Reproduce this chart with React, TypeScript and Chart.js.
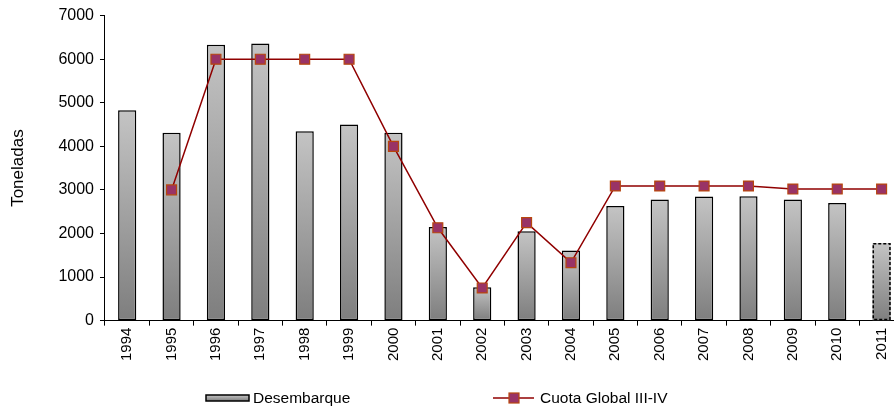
import React, { useEffect, useRef } from "react";
import { Chart, registerables } from "chart.js";

Chart.register(...registerables);

const years = ["1994", "1995", "1996", "1997", "1998", "1999", "2000", "2001", "2002", "2003", "2004", "2005", "2006", "2007", "2008", "2009", "2010", "2011"];
const desembarque = [4830, 4310, 6330, 6360, 4345, 4500, 4310, 2150, 765, 2050, 1610, 2630, 2780, 2850, 2855, 2780, 2700, 1780];
const cuota = [null, 3000, 6000, 6000, 6000, 6000, 4000, 2130, 750, 2250, 1330, 3090, 3090, 3090, 3090, 3020, 3020, 3020];
const yMin = 0;
const yMax = 7000;
const yStep = 1000;
const seriesNames = ["Desembarque", "Cuota Global III-IV"];
const yTitle = "Toneladas";
const provisionalIndex = 17;

const FONT = "'Liberation Sans', Arial, sans-serif";
const LINE_COLOR = "#900000";
const POINT_FILL = "#993366";
const POINT_BORDER = "#b8460e";

function barGradient(ctx: CanvasRenderingContext2D, top: number, bottom: number) {
  const g = ctx.createLinearGradient(0, top, 0, bottom);
  g.addColorStop(0, "#c4c4c4");
  g.addColorStop(1, "#7e7e7e");
  return g;
}

const dashedBarPlugin = {
  id: "dashedBar",
  afterDatasetsDraw(chart: any) {
    const meta = chart.getDatasetMeta(0);
    const el = meta.data[provisionalIndex];
    if (!el) return;
    const { x, y, base, width } = el.getProps(["x", "y", "base", "width"], true);
    const ctx = chart.ctx;
    ctx.save();
    ctx.setLineDash([3, 2]);
    ctx.lineWidth = 1.5;
    ctx.strokeStyle = "#000";
    ctx.strokeRect(x - width / 2 + 0.75, y + 0.75, width - 1.5, base - y - 1.5);
    ctx.restore();
  },
};

const legendPlugin = {
  id: "customLegend",
  afterDraw(chart: any) {
    const ctx = chart.ctx;
    const cy = 398;
    ctx.save();
    ctx.font = `15.5px ${FONT}`;
    ctx.textBaseline = "middle";
    // bar entry
    const bx = 206, bw = 43, bh = 6;
    ctx.fillStyle = barGradient(ctx, cy - bh / 2, cy + bh / 2);
    ctx.fillRect(bx, cy - bh / 2, bw, bh);
    ctx.lineWidth = 1.5;
    ctx.strokeStyle = "#000";
    ctx.strokeRect(bx, cy - bh / 2, bw, bh);
    ctx.fillStyle = "#000";
    ctx.fillText(seriesNames[0], 253, cy + 1);
    // line entry
    ctx.strokeStyle = LINE_COLOR;
    ctx.lineWidth = 1.5;
    ctx.beginPath();
    ctx.moveTo(493, cy);
    ctx.lineTo(534, cy);
    ctx.stroke();
    ctx.fillStyle = POINT_FILL;
    ctx.fillRect(509, cy - 5, 10, 10);
    ctx.strokeStyle = POINT_BORDER;
    ctx.lineWidth = 1.2;
    ctx.strokeRect(509, cy - 5, 10, 10);
    ctx.fillStyle = "#000";
    ctx.fillText(seriesNames[1], 540, cy + 1);
    ctx.restore();
  },
};

export default function App() {
  const ref = useRef<HTMLCanvasElement | null>(null);

  useEffect(() => {
    if (!ref.current) return;
    const chart = new Chart(ref.current, {
      type: "bar",
      data: {
        labels: years,
        datasets: [
          {
            type: "bar",
            label: seriesNames[0],
            data: desembarque,
            order: 1,
            backgroundColor: (c: any) => {
              const chart = c.chart;
              if (!chart.chartArea || c.dataIndex === undefined) return "#a0a0a0";
              const ys = chart.scales.y;
              const v = desembarque[c.dataIndex];
              return barGradient(chart.ctx, ys.getPixelForValue(v), ys.getPixelForValue(0));
            },
            borderColor: "#000",
            borderWidth: (c: any) => (c.dataIndex === provisionalIndex ? 0 : 1.5),
            borderSkipped: false,
            barPercentage: 0.41,
            categoryPercentage: 1,
          } as any,
          {
            type: "line",
            label: seriesNames[1],
            data: cuota,
            order: 0,
            borderColor: LINE_COLOR,
            borderWidth: 1.5,
            pointStyle: "rect",
            pointRadius: 7,
            pointBackgroundColor: POINT_FILL,
            pointBorderColor: POINT_BORDER,
            pointBorderWidth: 1.2,
            tension: 0,
            spanGaps: false,
          } as any,
        ],
      },
      options: {
        responsive: false,
        animation: false,
        devicePixelRatio: 1,
        layout: { padding: { top: 15, left: 0, right: 0, bottom: 45 } },
        plugins: {
          legend: { display: false },
          tooltip: { enabled: false },
        },
        scales: {
          x: {
            offset: true,
            grid: {
              offset: true,
              drawOnChartArea: false,
              drawTicks: true,
              tickLength: 5,
              color: "#000",
              lineWidth: 1,
            },
            border: { display: true, color: "#000", width: 1 },
            ticks: {
              color: "#000",
              font: { family: FONT, size: 15 },
              maxRotation: 90,
              minRotation: 90,
              padding: 2,
              autoSkip: false,
            },
          },
          y: {
            min: yMin,
            max: yMax,
            grid: {
              drawOnChartArea: false,
              drawTicks: true,
              tickLength: 5,
              color: "#000",
              lineWidth: 1,
            },
            border: { display: true, color: "#000", width: 1 },
            ticks: {
              stepSize: yStep,
              color: "#000",
              font: { family: FONT, size: 16 },
              padding: 6,
              callback: (v: any) => String(v),
            },
            title: {
              display: true,
              text: yTitle,
              color: "#000",
              font: { family: FONT, size: 17 },
              padding: { top: 8, bottom: 24 },
            },
          },
        },
      },
      plugins: [dashedBarPlugin, legendPlugin],
    });
    return () => chart.destroy();
  }, []);

  return (
    <div style={{ position: "fixed", left: 0, top: 0, width: 894, height: 408, overflow: "hidden", background: "#fff" }}>
      <canvas ref={ref} width={912} height={408} style={{ display: "block" }} />
    </div>
  );
}
